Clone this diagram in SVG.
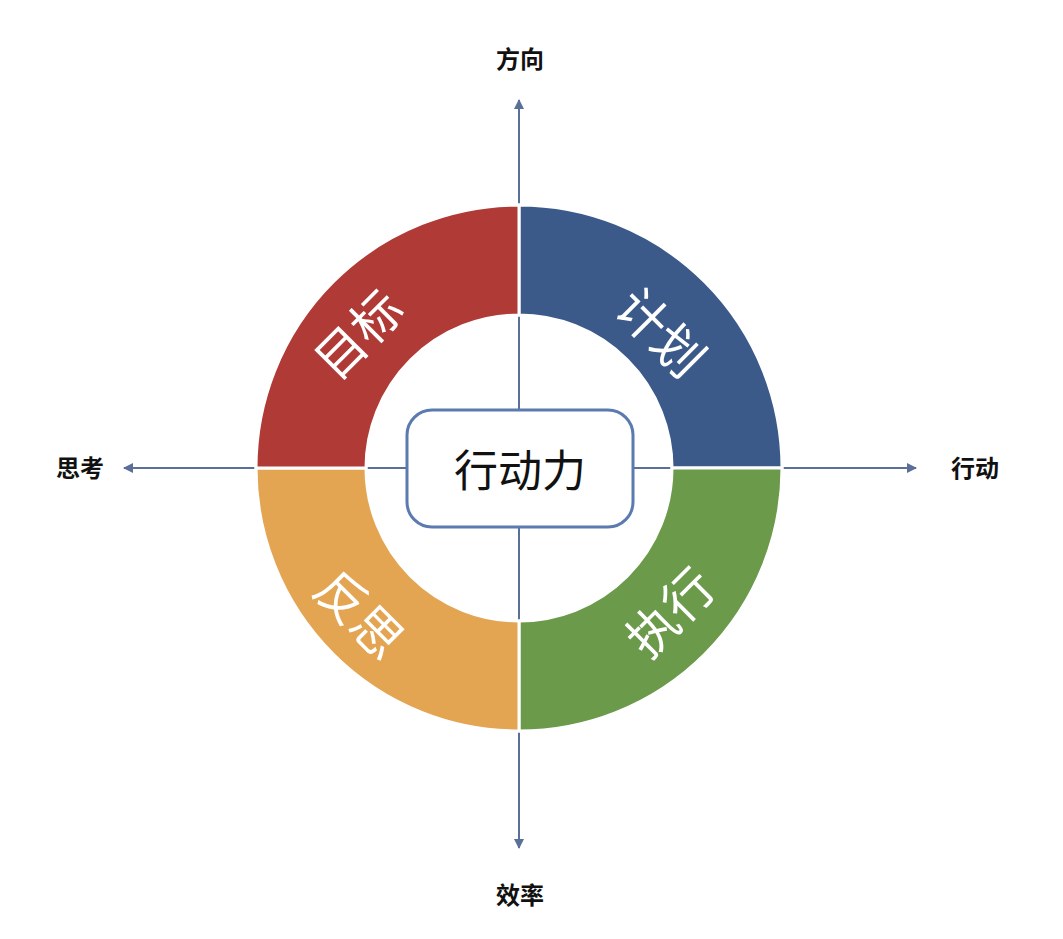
<svg xmlns="http://www.w3.org/2000/svg" width="1063" height="939" viewBox="0 0 1063 939">
<defs>
<marker id="ah" viewBox="0 0 10 10" refX="9" refY="5" markerWidth="10" markerHeight="10" markerUnits="userSpaceOnUse" orient="auto"><path d="M0,0 L10,5 L0,10 z" fill="#5a7099"/></marker>
<style>
.ax{stroke:#5a7099;stroke-width:2;fill:none;marker-end:url(#ah)}
.q{stroke:#fff;stroke-width:3}
.ql{font-family:"Noto Sans CJK SC",sans-serif;font-size:50px;fill:#fff;text-anchor:middle;dominant-baseline:central}
.al{font-family:"Noto Sans CJK SC",sans-serif;font-size:24px;font-weight:bold;fill:#111;text-anchor:middle;dominant-baseline:central}
</style>
</defs>
<rect width="1063" height="939" fill="#fff"/>
<g id="connectors">
<line class="ax" x1="519" y1="468" x2="519" y2="100"/>
<line class="ax" x1="519" y1="468" x2="519" y2="848"/>
<line class="ax" x1="519" y1="468" x2="124" y2="468"/>
<line class="ax" x1="519" y1="468" x2="916" y2="468"/>
</g>
<g id="q-plan"><path class="q" fill="#3b5a8a" d="M519,205 A263,263 0 0 1 782,468 L672,468 A153,153 0 0 0 519,315 Z"/><text class="ql" transform="translate(663,330) rotate(45)">计划</text></g>
<g id="q-exec"><path class="q" fill="#6a9a4a" d="M782,468 A263,263 0 0 1 519,731 L519,621 A153,153 0 0 0 672,468 Z"/><text class="ql" transform="translate(668,610) rotate(-45)">执行</text></g>
<g id="q-reflect"><path class="q" fill="#e3a552" d="M519,731 A263,263 0 0 1 256,468 L366,468 A153,153 0 0 0 519,621 Z"/><text class="ql" transform="translate(362,612) rotate(45)">反思</text></g>
<g id="q-goal"><path class="q" fill="#b03a36" d="M256,468 A263,263 0 0 1 519,205 L519,315 A153,153 0 0 0 366,468 Z"/><text class="ql" transform="translate(356,332) rotate(-45)">目标</text></g>
<g id="center"><rect x="407" y="410" width="226" height="117" rx="25" fill="#fff" stroke="#5b7bb0" stroke-width="3"/><text x="520" y="468" font-family="Noto Sans CJK SC,sans-serif" font-size="44" fill="#111" text-anchor="middle" dominant-baseline="central">行动力</text></g>
<g id="labels">
<text class="al" x="520" y="57">方向</text>
<text class="al" x="520" y="893">效率</text>
<text class="al" x="80" y="466">思考</text>
<text class="al" x="975" y="466">行动</text>
</g>
</svg>
